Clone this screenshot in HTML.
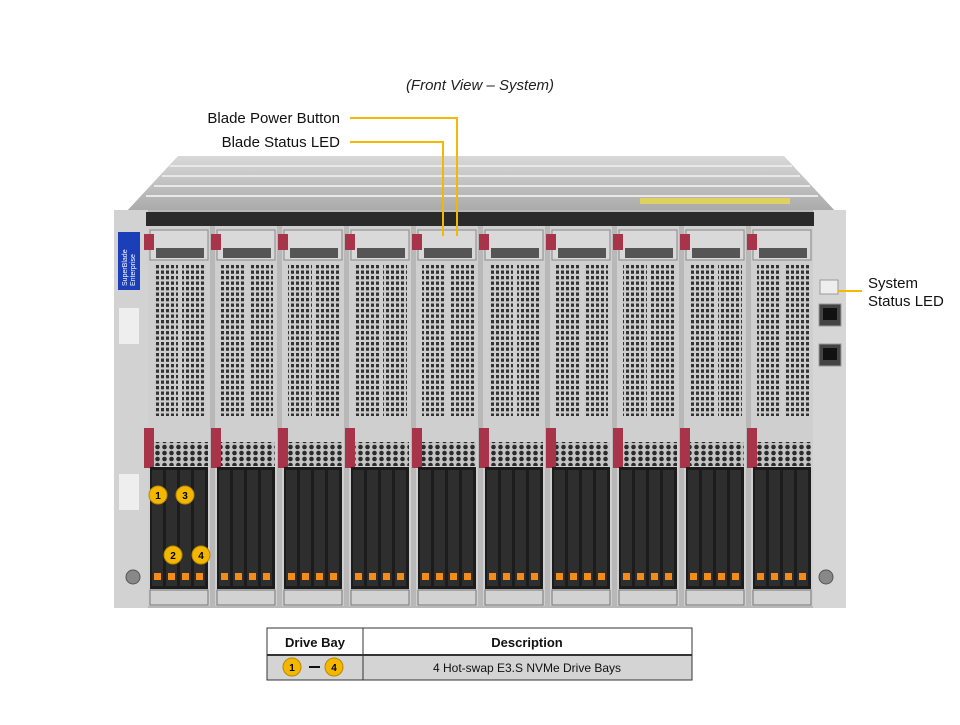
<!DOCTYPE html>
<html><head><meta charset="utf-8"><style>
body{margin:0;background:#fff;width:960px;height:720px;overflow:hidden;font-family:"Liberation Sans",sans-serif}
</style></head><body>
<svg width="960" height="720" viewBox="0 0 960 720" xmlns="http://www.w3.org/2000/svg" font-family="Liberation Sans, sans-serif">
<defs>
<pattern id="grid" x="0" y="0" width="5" height="5.5" patternUnits="userSpaceOnUse">
<rect width="5" height="5.5" fill="#cdcdcd"/><rect x="1" y="1" width="3" height="3.3" fill="#333"/></pattern>
<pattern id="hex" x="0" y="0" width="7" height="6" patternUnits="userSpaceOnUse">
<rect width="7" height="6" fill="#c4c4c4"/><circle cx="3.5" cy="3" r="2.3" fill="#2b2b2b"/></pattern>
<linearGradient id="top" x1="0" y1="0" x2="0" y2="1"><stop offset="0" stop-color="#d8d8d8"/><stop offset="1" stop-color="#a9a9a9"/></linearGradient>
</defs>
<text x="480" y="90" font-size="15" font-style="italic" text-anchor="middle" fill="#222">(Front View – System)</text>
<polygon points="178,156 784,156 836,212 126,212" fill="url(#top)"/>
<g stroke="#e8e8e8" stroke-width="2"><line x1="170" y1="166" x2="792" y2="166"/><line x1="162" y1="176" x2="800" y2="176"/><line x1="154" y1="186" x2="810" y2="186"/><line x1="146" y1="196" x2="818" y2="196"/></g>
<rect x="640" y="198" width="150" height="6" fill="#e0d060"/>
<rect x="114" y="210" width="732" height="398" fill="#b8b8b8"/>
<rect x="114" y="210" width="34" height="398" fill="#d2d2d2"/>
<rect x="813" y="210" width="33" height="398" fill="#d6d6d6"/>
<rect x="118" y="232" width="22" height="58" fill="#1a3fb8"/>
<text transform="translate(127,286) rotate(-90)" font-size="7" fill="#fff">SuperBlade</text>
<text transform="translate(135,286) rotate(-90)" font-size="7" fill="#fff">Enterprise</text>
<rect x="119" y="308" width="20" height="36" fill="#eee"/>
<rect x="119" y="474" width="20" height="36" fill="#eee"/>
<circle cx="133" cy="577" r="7" fill="#888" stroke="#555"/>
<circle cx="826" cy="577" r="7" fill="#888" stroke="#555"/>
<rect x="820" y="280" width="18" height="14" fill="#eee" stroke="#999"/>
<rect x="819" y="304" width="22" height="22" fill="#444" stroke="#999"/><rect x="823" y="308" width="14" height="12" fill="#111"/>
<rect x="819" y="344" width="22" height="22" fill="#444" stroke="#999"/><rect x="823" y="348" width="14" height="12" fill="#111"/>
<rect x="146" y="212" width="668" height="14" fill="#2a2a2a"/>
<g id="blades"></g>
<g stroke="#f5b800" stroke-width="2" fill="none">
<polyline points="350,118 457,118 457,236"/>
<polyline points="350,142 443,142 443,236"/>
<line x1="838" y1="291" x2="862" y2="291"/>
</g>
<text x="340" y="123" font-size="15" text-anchor="end" fill="#111">Blade Power Button</text>
<text x="340" y="147" font-size="15" text-anchor="end" fill="#111">Blade Status LED</text>
<text x="868" y="288" font-size="15" fill="#111">System</text>
<text x="868" y="306" font-size="15" fill="#111">Status LED</text>
<rect x="267" y="628" width="425" height="27" fill="#fff"/>
<rect x="267" y="655" width="425" height="25" fill="#d4d4d4"/>
<g stroke="#333" fill="none"><rect x="267" y="628" width="425" height="52"/><line x1="267" y1="655" x2="692" y2="655" stroke-width="2"/><line x1="363" y1="628" x2="363" y2="680"/></g>
<text x="315" y="647" font-size="13" font-weight="bold" text-anchor="middle" fill="#111">Drive Bay</text>
<text x="527" y="647" font-size="13" font-weight="bold" text-anchor="middle" fill="#111">Description</text>
<text x="527" y="672" font-size="12" text-anchor="middle" fill="#111">4 Hot-swap E3.S NVMe Drive Bays</text>
<circle cx="292" cy="667" r="9" fill="#f3b700" stroke="#b88800"/><text x="292" y="671" font-size="10" font-weight="bold" text-anchor="middle">1</text>
<line x1="309" y1="667" x2="320" y2="667" stroke="#111" stroke-width="2"/>
<circle cx="334" cy="667" r="9" fill="#f3b700" stroke="#b88800"/><text x="334" y="671" font-size="10" font-weight="bold" text-anchor="middle">4</text>
</svg>
<script>
var g=document.getElementById('blades'),s='';
for(var i=0;i<10;i++){var x=148+i*67;
s+='<rect x="'+x+'" y="226" width="62" height="380" fill="#cfcfcf"/>';
s+='<rect x="'+(x+2)+'" y="230" width="58" height="30" fill="#d9d9d9" stroke="#888"/>';
s+='<rect x="'+(x-4)+'" y="234" width="10" height="16" fill="#a8344a"/>';
s+='<rect x="'+(x+8)+'" y="248" width="48" height="10" fill="#555"/>';
s+='<rect x="'+(x+6)+'" y="264" width="24" height="152" fill="url(#grid)"/>';
s+='<rect x="'+(x+34)+'" y="264" width="24" height="152" fill="url(#grid)"/>';
s+='<rect x="'+(x-4)+'" y="428" width="10" height="40" fill="#a8344a"/>';
s+='<rect x="'+(x+6)+'" y="442" width="54" height="24" fill="url(#hex)"/>';
s+='<rect x="'+(x+2)+'" y="467" width="58" height="122" fill="#1c1c1c"/>';
for(var j=0;j<4;j++){var dx=x+4+j*14;s+='<rect x="'+dx+'" y="470" width="11" height="116" fill="#2e2e2e"/><rect x="'+(dx+2)+'" y="573" width="7" height="7" fill="#f28c1a"/>';}
s+='<rect x="'+(x+2)+'" y="590" width="58" height="15" fill="#d2d2d2" stroke="#777"/>';
}
var c=[[158,495,1],[185,495,3],[173,555,2],[201,555,4]];
c.forEach(function(p){s+='<circle cx="'+p[0]+'" cy="'+p[1]+'" r="9" fill="#f3b700" stroke="#b88800"/><text x="'+p[0]+'" y="'+(p[1]+4)+'" font-size="10" font-weight="bold" text-anchor="middle">'+p[2]+'</text>';});
g.innerHTML=s;
</script>
</body></html>
